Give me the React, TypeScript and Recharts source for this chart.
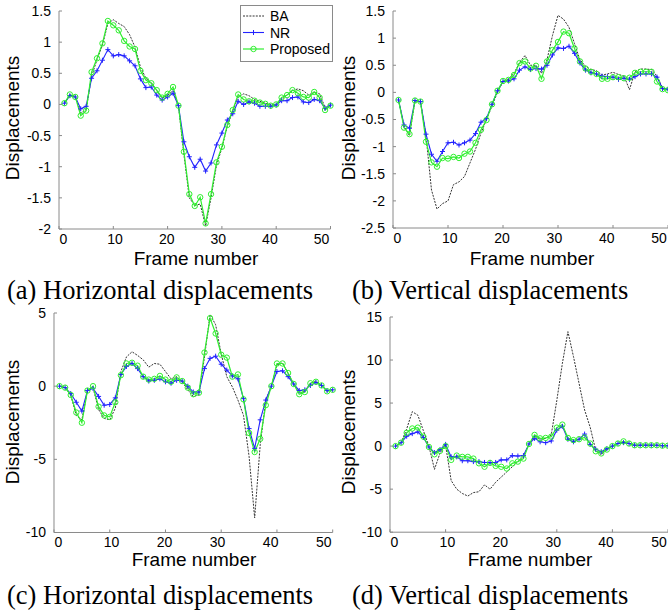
import { LineChart, Line, XAxis, YAxis } from 'recharts'

// frame numbers on the x axis
const frames = [
  1, 2, 3, 4, 5, 6, 7, 8, 9, 10, 11, 12, 13, 14, 15, 16, 17, 18, 19, 20, 21, 22, 23, 24, 25,
  26, 27, 28, 29, 30, 31, 32, 33, 34, 35, 36, 37, 38, 39, 40, 41, 42, 43, 44, 45, 46, 47, 48, 49, 50,
]
const xTicks = [0, 10, 20, 30, 40, 50]

// (a) horizontal
const baA = [0.02, 0.15, 0.13, -0.14, -0.08, 0.45, 0.72, 0.95, 1.3, 1.36, 1.3, 1.25, 1.12, 0.92, 0.6, 0.42, 0.35, 0.22, 0.1, 0.15, 0.22, -0.02, -0.8, -1.5, -1.62, -1.6, -1.95, -1.5, -0.98, -0.7, -0.35, -0.1, 0.12, 0.17, 0.14, 0.08, 0.05, 0.02, 0, 0, 0.08, 0.15, 0.22, 0.25, 0.22, 0.15, 0.2, 0.17, -0.05, -0.02]
const nrA = [0.02, 0.14, 0.12, -0.07, -0.03, 0.42, 0.54, 0.71, 0.88, 0.78, 0.8, 0.78, 0.7, 0.62, 0.41, 0.27, 0.28, 0.15, 0.07, 0.12, 0.18, -0.02, -0.6, -0.84, -1.01, -0.88, -1.07, -0.94, -0.65, -0.46, -0.25, -0.15, 0.05, 0, 0.04, 0.02, -0.03, -0.03, -0.03, -0.01, 0.06, 0.06, 0.11, 0.12, 0.04, 0.03, 0.08, 0.06, -0.06, -0.01]
const propA = [0.02, 0.16, 0.12, -0.18, -0.1, 0.52, 0.74, 0.98, 1.34, 1.27, 1.19, 1.02, 0.93, 0.89, 0.54, 0.39, 0.34, 0.23, 0.11, 0.17, 0.28, -0.02, -0.76, -1.44, -1.63, -1.49, -1.91, -1.44, -0.93, -0.68, -0.33, -0.09, 0.16, 0.08, 0.05, 0.06, 0.03, 0.01, -0.02, 0, 0.11, 0.15, 0.23, 0.18, 0.12, 0.11, 0.2, 0.11, -0.09, -0.02]
const ticksA = [-2, -1.5, -1, -0.5, 0, 0.5, 1, 1.5]

// (b) vertical
const baB = [-0.14, -0.62, -0.8, -0.15, -0.18, -0.8, -1.8, -2.15, -2.05, -2, -1.7, -1.65, -1.55, -1.3, -1.05, -0.75, -0.5, -0.25, 0, 0.2, 0.25, 0.35, 0.55, 0.68, 0.5, 0.5, 0.35, 0.6, 1.05, 1.42, 1.35, 1.2, 0.9, 0.6, 0.48, 0.42, 0.4, 0.32, 0.34, 0.37, 0.33, 0.3, 0.05, 0.38, 0.43, 0.43, 0.42, 0.3, 0.08, 0.05]
const nrB = [-0.14, -0.6, -0.66, -0.15, -0.17, -0.77, -1.14, -1.27, -1.09, -0.93, -0.92, -0.97, -0.93, -0.88, -0.76, -0.55, -0.48, -0.22, 0.03, 0.2, 0.21, 0.25, 0.41, 0.47, 0.42, 0.44, 0.43, 0.5, 0.69, 0.82, 0.81, 0.85, 0.72, 0.54, 0.41, 0.36, 0.34, 0.3, 0.29, 0.28, 0.24, 0.26, 0.24, 0.29, 0.34, 0.34, 0.34, 0.28, 0.07, 0.06]
const propB = [-0.14, -0.65, -0.77, -0.15, -0.17, -0.91, -1.29, -1.37, -1.21, -1.22, -1.19, -1.21, -1.13, -1.09, -0.93, -0.69, -0.51, -0.22, 0.03, 0.21, 0.23, 0.32, 0.54, 0.57, 0.44, 0.49, 0.25, 0.57, 0.78, 0.93, 1.12, 1.09, 0.81, 0.57, 0.44, 0.38, 0.34, 0.25, 0.25, 0.28, 0.28, 0.26, 0.27, 0.36, 0.38, 0.38, 0.38, 0.2, 0.06, 0.04]
const ticksB = [-2.5, -2, -1.5, -1, -0.5, 0, 0.5, 1, 1.5]

// (c) horizontal
const baC = [0, -0.1, -0.6, -2.0, -2.3, -0.3, -0.1, -1.6, -2.2, -2.3, -1.5, 1.0, 2.0, 2.35, 2.1, 1.8, 1.3, 1.55, 1.5, 1.0, 0.5, 0.65, 0.3, -0.25, -0.7, -0.6, 2.0, 4.9, 4.2, 2.2, 0.65, -0.05, -0.95, -2.0, -4.8, -9.0, -4.0, -0.95, 0, 1.45, 1.6, 0.85, 0.15, -0.5, -0.35, 0.2, 0.35, 0.05, -0.35, -0.25]
const nrC = [0, -0.1, -0.5, -1.1, -1.7, -0.3, -0.15, -0.7, -1.3, -1.25, -0.8, 0.8, 1.35, 1.55, 1.2, 0.65, 0.35, 0.4, 0.5, 0.3, 0.2, 0.4, 0.35, 0, -0.4, -0.4, 1.2, 1.9, 2.05, 1.5, 1.1, 0.7, 0.5, -0.85, -2.9, -4.25, -2.3, -0.95, 0, 1.0, 1.05, 0.65, 0.15, -0.3, -0.25, 0.05, 0.25, 0.05, -0.3, -0.25]
const propC = [0, -0.1, -0.6, -1.8, -2.5, -0.3, 0, -1.4, -2.0, -2.1, -1.1, 0.75, 1.55, 1.6, 1.4, 0.65, 0.45, 0.5, 0.7, 0.45, 0.3, 0.6, 0.35, -0.1, -0.55, -0.45, 2.3, 4.65, 3.6, 2.15, 1.95, 0.65, 0.8, -0.9, -3.2, -4.5, -3.6, -1.3, 0, 1.55, 1.55, 0.9, 0.15, -0.55, -0.4, 0.2, 0.3, 0.05, -0.35, -0.25]
const ticksC = [-10, -5, 0, 5]

// (d) vertical
const baD = [0, 0.4, 2.0, 4.0, 3.6, 1.8, 0, -2.7, -0.8, 0.1, -4.0, -5.0, -5.5, -5.8, -5.4, -5.3, -4.5, -5.0, -4.2, -3.6, -3.0, -2.4, -1.8, -1.2, 0.2, 1.2, 0.8, 0.9, 1.3, 5.3, 9.6, 13.3, 10.4, 7.3, 4.2, 2.2, -0.5, -1.0, -0.45, 0, 0.3, 0.5, 0.3, 0.1, 0.1, 0.1, 0.1, 0.1, 0.05, 0.05]
const nrD = [0, 0.4, 1.15, 1.45, 1.65, 1.0, -0.1, -0.75, -0.4, 0.2, -1.25, -1.25, -1.7, -1.7, -1.8, -1.8, -1.9, -1.9, -1.9, -1.6, -1.6, -1.1, -1.15, -1.1, 0.25, 0.9, 0.5, 0.4, 0.6, 1.85, 2.3, 0.8, 0.5, 0.8, 1.4, 0.2, -0.35, -0.65, -0.3, 0, 0.3, 0.4, 0.3, 0.1, 0.1, 0.1, 0.1, 0.1, 0.05, 0.05]
const propD = [0, 0.4, 1.55, 2.05, 2.15, 1.1, -0.1, -0.95, -0.55, 0, -1.6, -1.1, -1.25, -1.25, -1.45, -2.0, -2.4, -1.95, -2.3, -2.4, -2.6, -2.0, -1.8, -1.45, 0.25, 1.3, 0.9, 0.95, 1.1, 2.15, 2.5, 0.95, 0.7, 0.8, 1.0, 0.3, -0.6, -0.85, -0.4, 0, 0.3, 0.55, 0.3, 0.1, 0.1, 0.1, 0.1, 0.1, 0.05, 0.05]
const ticksD = [-10, -5, 0, 5, 10, 15]

const BA_COLOR = '#333333'
const NR_COLOR = '#2323ff'
const PROP_COLOR = '#2fef2f'
const AXIS_COLOR = '#8a8a8a'
const SANS = '"Liberation Sans", Arial, sans-serif'
const SERIF = '"Liberation Serif", "Times New Roman", serif'

function PlusDot(props: any) {
  const { cx, cy, index } = props
  if (cx == null || cy == null) return <g key={index} />
  return (
    <path
      key={index}
      d={`M${cx - 2.5},${cy}h5M${cx},${cy - 2.5}v5`}
      stroke={NR_COLOR}
      strokeWidth={1}
      fill="none"
    />
  )
}

function CircleDot(props: any) {
  const { cx, cy, index } = props
  if (cx == null || cy == null) return <g key={index} />
  return <circle key={index} cx={cx} cy={cy} r={2.7} fill="none" stroke={PROP_COLOR} strokeWidth={1} />
}

// in the original figure the x tick labels sit a little off their ticks
function FrameTick(props: any) {
  const { x, y, payload } = props
  const v = payload.value
  const shift = 4.5 - 13.5 * (v / 50)
  return (
    <text x={x + shift} y={y} dy="0.71em" textAnchor="middle" fontFamily={SANS} fontSize={14} fill="#000">
      {v}
    </text>
  )
}

type PanelProps = {
  ba: number[]
  nr: number[]
  prop: number[]
  yTicks: number[]
  plotLeft: number
  plotRight: number
  plotTop: number
  plotBottom: number
}

function Panel({ ba, nr, prop, yTicks, plotLeft, plotRight, plotTop, plotBottom }: PanelProps) {
  const yW = 50
  const mTop = 10
  const mRight = 10
  const xH = 30
  const width = plotRight - plotLeft + yW + mRight
  const height = plotBottom - plotTop + mTop + xH
  const data = frames.map((f, i) => ({ frame: f, ba: ba[i], nr: nr[i], prop: prop[i] }))
  const yDomain = [yTicks[0], yTicks[yTicks.length - 1]]

  return (
    <div style={{ position: 'absolute', left: plotLeft - yW, top: plotTop - mTop }}>
      <LineChart width={width} height={height} data={data} margin={{ top: mTop, right: mRight, left: 0, bottom: 0 }}>
        <XAxis
          dataKey="frame"
          type="number"
          domain={[0, 50]}
          ticks={xTicks}
          interval={0}
          height={xH}
          stroke={AXIS_COLOR}
          tickSize={-3}
          tickMargin={8}
          tick={FrameTick}
        />
        <YAxis
          type="number"
          domain={yDomain}
          ticks={yTicks}
          interval={0}
          width={yW}
          stroke={AXIS_COLOR}
          tickSize={-3}
          tickMargin={11}
          tick={{ fill: '#000', fontSize: 14, fontFamily: SANS }}
        />
        <Line
          dataKey="ba"
          stroke={BA_COLOR}
          strokeWidth={1}
          strokeDasharray="2 1.2"
          dot={false}
          isAnimationActive={false}
        />
        <Line
          dataKey="nr"
          stroke={NR_COLOR}
          strokeWidth={1.1}
          dot={PlusDot}
          isAnimationActive={false}
        />
        <Line
          dataKey="prop"
          stroke={PROP_COLOR}
          strokeWidth={1.2}
          dot={CircleDot}
          isAnimationActive={false}
        />
      </LineChart>
    </div>
  )
}

const captions = [
  { text: '(a) Horizontal displacements', x: 7, y: 299 },
  { text: '(b) Vertical displacements', x: 352, y: 299 },
  { text: '(c) Horizontal displacements', x: 7, y: 604 },
  { text: '(d) Vertical displacements', x: 352, y: 604 },
]

const xTitles = [
  { x: 196, y: 265 },
  { x: 532, y: 265 },
  { x: 194, y: 566 },
  { x: 530, y: 566 },
]

const yTitles = [
  { x: 19, y: 118 },
  { x: 355, y: 118 },
  { x: 19, y: 422 },
  { x: 355, y: 432 },
]

const legendItems = ['BA', 'NR', 'Proposed']

export default function App() {
  return (
    <div
      style={{
        position: 'fixed',
        left: 0,
        top: 0,
        width: 668,
        height: 613,
        overflow: 'hidden',
        background: '#fff',
      }}
    >
      <Panel ba={baA} nr={nrA} prop={propA} yTicks={ticksA} plotLeft={59} plotRight={330.5} plotTop={11} plotBottom={229} />
      <Panel ba={baB} nr={nrB} prop={propB} yTicks={ticksB} plotLeft={393} plotRight={668} plotTop={11} plotBottom={228} />
      <Panel ba={baC} nr={nrC} prop={propC} yTicks={ticksC} plotLeft={54.3} plotRight={333} plotTop={313} plotBottom={532.5} />
      <Panel ba={baD} nr={nrD} prop={propD} yTicks={ticksD} plotLeft={390} plotRight={668} plotTop={317.3} plotBottom={532.5} />

      <svg width={668} height={613} style={{ position: 'absolute', left: 0, top: 0, pointerEvents: 'none' }}>
        {xTitles.map((t, i) => (
          <text key={'x' + i} x={t.x} y={t.y} textAnchor="middle" fontFamily={SANS} fontSize={19} fill="#000">
            Frame number
          </text>
        ))}
        {yTitles.map((t, i) => (
          <text
            key={'y' + i}
            transform={`translate(${t.x},${t.y}) rotate(-90)`}
            textAnchor="middle"
            fontFamily={SANS}
            fontSize={19}
            fill="#000"
          >
            Displacements
          </text>
        ))}
        {captions.map((c) => (
          <text key={c.text + c.y} x={c.x} y={c.y} fontFamily={SERIF} fontSize={26.5} fill="#000">
            {c.text}
          </text>
        ))}

        {/* legend of panel (a) */}
        <rect x={240.5} y={5.5} width={92} height={56} fill="#fff" stroke={AXIS_COLOR} strokeWidth={1} />
        {legendItems.map((name, i) => {
          const y = 16 + i * 16.5
          return (
            <g key={name}>
              {i === 0 && <line x1={243} x2={264} y1={y} y2={y} stroke={BA_COLOR} strokeWidth={1} strokeDasharray="2 1.2" />}
              {i === 1 && (
                <g>
                  <line x1={243} x2={264} y1={y} y2={y} stroke={NR_COLOR} strokeWidth={1.1} />
                  <path d={`M${251},${y}h5M${253.5},${y - 2.5}v5`} stroke={NR_COLOR} strokeWidth={1} />
                </g>
              )}
              {i === 2 && (
                <g>
                  <line x1={243} x2={264} y1={y} y2={y} stroke={PROP_COLOR} strokeWidth={1.2} />
                  <circle cx={253.5} cy={y} r={2.7} fill="none" stroke={PROP_COLOR} strokeWidth={1} />
                </g>
              )}
              <text x={270} y={y + 5} fontFamily={SANS} fontSize={14} fill="#000">
                {name}
              </text>
            </g>
          )
        })}
      </svg>
    </div>
  )
}
